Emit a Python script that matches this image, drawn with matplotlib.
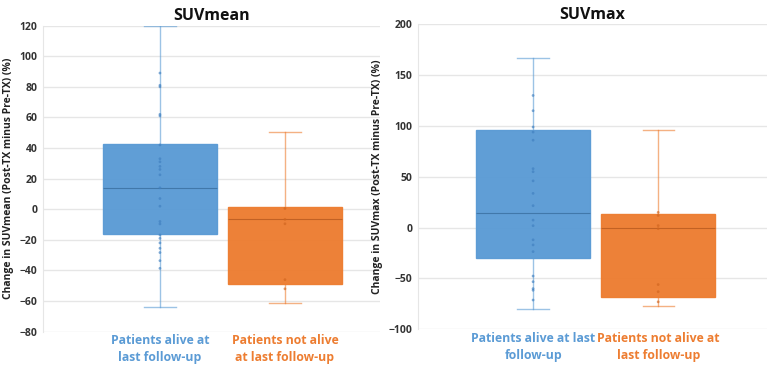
import matplotlib
matplotlib.use("Agg")
import matplotlib.pyplot as plt

plt.rcParams['font.family'] = ['Open Sans', 'DejaVu Sans']

groups = ["Patients alive at\nlast follow-up", "Patients not alive\nat last follow-up"]
groups_max = ["Patients alive at last\nfollow-up", "Patients not alive at\nlast follow-up"]
colors = ["#5B9BD5", "#ED7D31"]
pt_colors = ["#3f7fbf", "#d0651f"]

# SUVmean box statistics [alive, not alive]
mean_whislo = [-64, -61]
mean_q1 = [-16.3, -48.7]
mean_med = [14.2, -6.7]
mean_q3 = [42.6, 1.2]
mean_whishi = [120, 50.7]
mean_pts_alive = [89, 81, 80, 62, 61, 42, 33, 31, 28, 26, 22.5, 14, 7, 2, -8, -9.6, -16.8, -19, -22, -25.5, -28.3, -33.6, -38.6]
mean_pts_dead = [0.5, -6.6, -9.5, -46, -52]

# SUVmax box statistics [alive, not alive]
max_whislo = [-80, -77]
max_q1 = [-29.6, -68.4]
max_med = [14.6, -0.3]
max_q3 = [96, 13.8]
max_whishi = [166.6, 96]
max_pts_alive = [130, 115, 99, 94, 86, 58, 55, 46, 33.7, 21.6, 7.4, 1.9, -12, -17, -23.6, -47.6, -53.2, -60, -61.6, -71.2]
max_pts_dead = [15, 12, 2, -1, -56, -63, -73]

fig = plt.figure(figsize=(7.67, 3.71), dpi=100)
ax1 = fig.add_axes([0.056, 0.106, 0.4394, 0.825])
ax2 = fig.add_axes([0.545, 0.1124, 0.455, 0.8221])

def panel(ax, whislo, q1, med, q3, whishi, pts, labels, title, ylab, ylim, yticks, xlim):
    stats = []
    for i in range(2):
        stats.append(dict(whislo=whislo[i], q1=q1[i], med=med[i], q3=q3[i], whishi=whishi[i], fliers=[]))
    bp = ax.bxp(stats, positions=[1, 2], widths=0.91, patch_artist=True, showfliers=False,
                capwidths=0.25, zorder=3)
    for i, box in enumerate(bp['boxes']):
        box.set_facecolor(colors[i])
        box.set_edgecolor(colors[i])
        box.set_alpha(0.97)
        box.set_linewidth(1.0)
    for i, m in enumerate(bp['medians']):
        m.set_color('#3a6fa0' if i == 0 else '#b85a1f')
        m.set_linewidth(0.8)
        m.set_alpha(0.8)
    for j, w in enumerate(bp['whiskers']):
        w.set_color(colors[j // 2]); w.set_alpha(0.6); w.set_linewidth(1.0); w.set_zorder(2)
    for j, c in enumerate(bp['caps']):
        c.set_color(colors[j // 2]); c.set_alpha(0.6); c.set_linewidth(1.0)
    for i, p in enumerate(pts):
        ax.scatter([i + 1] * len(p), p, s=4, color=pt_colors[i], edgecolors='none', zorder=4,
                   alpha=0.65)
    ax.set_ylim(*ylim)
    ax.set_yticks(yticks)
    ax.set_xlim(*xlim)
    ax.grid(axis='y', color='#e6e6e6', linewidth=1.0, zorder=0)
    ax.set_axisbelow(True)
    for s in ['top', 'right', 'bottom']:
        ax.spines[s].set_visible(False)
    ax.spines['left'].set_color('#e6e6e6')
    ax.tick_params(axis='y', length=0, labelsize=7.5, labelcolor='#333333', pad=4)
    for t in ax.get_yticklabels():
        t.set_fontweight('bold')
    ax.set_xticks([1, 2])
    ax.set_xticklabels(labels, fontsize=8.8, fontweight='bold', linespacing=1.4)
    ax.tick_params(axis='x', length=0, pad=2)
    for t, c in zip(ax.get_xticklabels(), colors):
        t.set_color(c)
    ax.set_title(title, fontsize=11.5, fontweight='bold', color='#111111', pad=4)
    ax.set_ylabel(ylab, fontsize=7.5, fontweight='bold', color='#222222', labelpad=4)

panel(ax1, mean_whislo, mean_q1, mean_med, mean_q3, mean_whishi,
      [mean_pts_alive, mean_pts_dead], groups, "SUVmean",
      "Change in SUVmean (Post-TX minus Pre-TX) (%)", (-80, 120), range(-80, 121, 20), (0.064, 2.76))
panel(ax2, max_whislo, max_q1, max_med, max_q3, max_whishi,
      [max_pts_alive, max_pts_dead], groups_max, "SUVmax",
      "Change in SUVmax (Post-TX minus Pre-TX) (%)", (-100, 200), range(-100, 201, 50), (0.08, 2.87))

fig.savefig("out.png", dpi=100)
